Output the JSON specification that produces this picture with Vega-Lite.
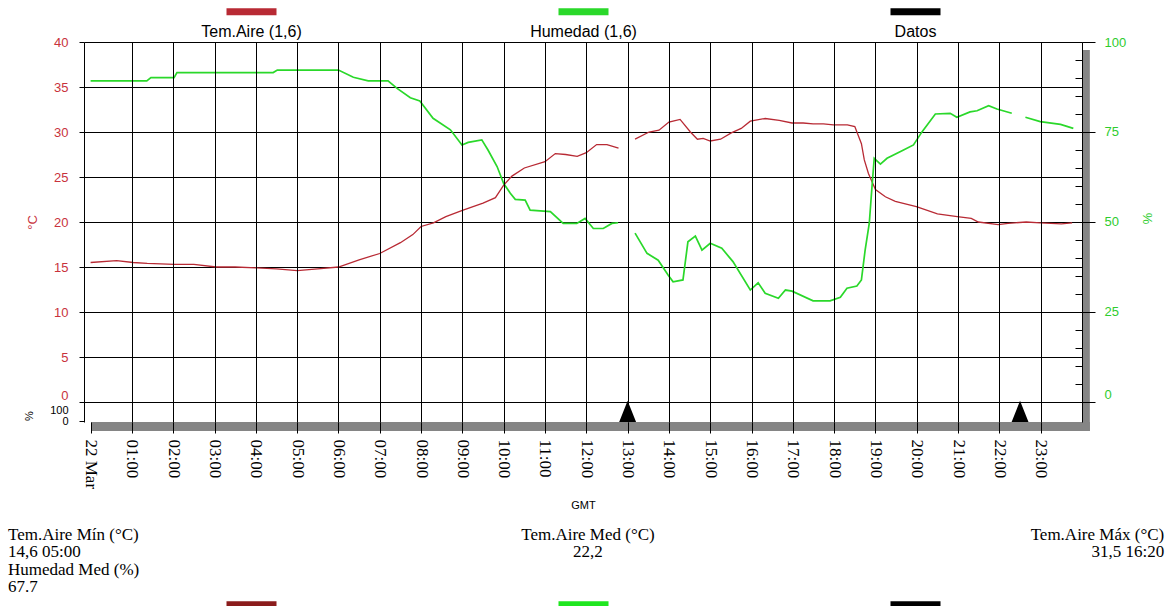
{
  "$schema": "https://vega.github.io/schema/vega-lite/v6.json",
  "width": 998,
  "height": 380,
  "autosize": {"type": "none"},
  "padding": {"left": 84, "top": 42, "right": 91, "bottom": 184},
  "background": "white",
  "config": {"view": {"stroke": null}, "font": "Liberation Sans"},
  "datasets": {
    "temp": [
      {"h":0.0,"v":15.5},{"h":0.63,"v":15.7},{"h":1.03,"v":15.5},{"h":1.37,"v":15.4},{"h":2.02,"v":15.3},{"h":2.5,"v":15.3},{"h":3.04,"v":15.0},{"h":3.5,"v":15.0},{"h":4.03,"v":14.9},{"h":4.5,"v":14.8},{"h":5.0,"v":14.6},{"h":5.5,"v":14.8},{"h":6.0,"v":15.0},{"h":6.5,"v":15.8},{"h":7.0,"v":16.5},{"h":7.5,"v":17.7},{"h":7.8,"v":18.6},{"h":8.0,"v":19.5},{"h":8.3,"v":19.9},{"h":8.6,"v":20.6},{"h":9.0,"v":21.3},{"h":9.5,"v":22.1},{"h":9.8,"v":22.7},{"h":10.0,"v":24.1},{"h":10.2,"v":25.1},{"h":10.5,"v":26.0},{"h":11.0,"v":26.7},{"h":11.25,"v":27.6},{"h":11.5,"v":27.5},{"h":11.78,"v":27.3},{"h":12.0,"v":27.7},{"h":12.25,"v":28.6},{"h":12.5,"v":28.6},{"h":12.78,"v":28.2},{"h":13.0,"v":null},{"h":13.18,"v":29.2},{"h":13.52,"v":30.0},{"h":13.76,"v":30.2},{"h":14.0,"v":31.1},{"h":14.27,"v":31.4},{"h":14.52,"v":30.0},{"h":14.69,"v":29.2},{"h":14.83,"v":29.3},{"h":15.0,"v":29.0},{"h":15.25,"v":29.2},{"h":15.51,"v":29.9},{"h":15.75,"v":30.4},{"h":15.97,"v":31.2},{"h":16.33,"v":31.5},{"h":16.67,"v":31.3},{"h":16.98,"v":31.0},{"h":17.25,"v":31.0},{"h":17.49,"v":30.9},{"h":17.74,"v":30.9},{"h":17.98,"v":30.8},{"h":18.32,"v":30.8},{"h":18.5,"v":30.6},{"h":18.66,"v":28.7},{"h":18.73,"v":26.9},{"h":18.83,"v":25.4},{"h":19.0,"v":23.6},{"h":19.24,"v":22.8},{"h":19.48,"v":22.3},{"h":19.99,"v":21.7},{"h":20.5,"v":20.9},{"h":20.98,"v":20.6},{"h":21.32,"v":20.4},{"h":21.49,"v":20.0},{"h":21.97,"v":19.7},{"h":22.21,"v":19.85},{"h":22.65,"v":20.0},{"h":22.99,"v":19.9},{"h":23.5,"v":19.8},{"h":23.76,"v":19.9}
    ],
    "hum": [
      {"h":0.0,"v":89.2},{"h":1.36,"v":89.2},{"h":1.46,"v":90.1},{"h":2.02,"v":90.1},{"h":2.09,"v":91.5},{"h":4.42,"v":91.5},{"h":4.52,"v":92.2},{"h":6.0,"v":92.2},{"h":6.36,"v":90.2},{"h":6.72,"v":89.2},{"h":7.2,"v":89.2},{"h":7.42,"v":87.1},{"h":7.74,"v":84.5},{"h":7.97,"v":83.6},{"h":8.29,"v":78.8},{"h":8.71,"v":75.6},{"h":8.99,"v":71.4},{"h":9.14,"v":72.1},{"h":9.47,"v":72.8},{"h":9.62,"v":70.0},{"h":9.84,"v":65.4},{"h":10.0,"v":60.7},{"h":10.16,"v":58.0},{"h":10.28,"v":56.3},{"h":10.52,"v":56.1},{"h":10.64,"v":53.3},{"h":11.13,"v":52.9},{"h":11.44,"v":49.6},{"h":11.77,"v":49.6},{"h":11.97,"v":51.0},{"h":12.17,"v":48.2},{"h":12.41,"v":48.2},{"h":12.62,"v":49.6},{"h":12.77,"v":49.8},{"h":13.0,"v":null},{"h":13.18,"v":46.9},{"h":13.47,"v":41.3},{"h":13.74,"v":39.4},{"h":13.98,"v":35.3},{"h":14.1,"v":33.4},{"h":14.34,"v":33.9},{"h":14.46,"v":44.5},{"h":14.64,"v":46.1},{"h":14.8,"v":42.2},{"h":15.0,"v":44.1},{"h":15.28,"v":42.7},{"h":15.55,"v":39.0},{"h":15.97,"v":31.1},{"h":16.16,"v":33.1},{"h":16.33,"v":30.2},{"h":16.65,"v":28.8},{"h":16.82,"v":31.1},{"h":16.98,"v":30.8},{"h":17.49,"v":28.1},{"h":17.9,"v":28.1},{"h":18.15,"v":29.1},{"h":18.31,"v":31.6},{"h":18.55,"v":32.2},{"h":18.66,"v":33.9},{"h":18.75,"v":42.2},{"h":18.85,"v":49.6},{"h":18.91,"v":58.9},{"h":18.97,"v":67.7},{"h":19.12,"v":66.1},{"h":19.28,"v":67.7},{"h":19.68,"v":70.0},{"h":19.92,"v":71.4},{"h":20.13,"v":75.1},{"h":20.45,"v":80.0},{"h":20.81,"v":80.2},{"h":20.97,"v":79.1},{"h":21.29,"v":80.6},{"h":21.46,"v":80.9},{"h":21.74,"v":82.3},{"h":21.94,"v":81.4},{"h":22.3,"v":80.2},{"h":22.45,"v":null},{"h":22.63,"v":79.1},{"h":22.99,"v":77.9},{"h":23.48,"v":77.1},{"h":23.79,"v":76.0}
    ],
    "datos": [{"h":13.0,"v":0},{"h":22.5,"v":0}]
  },
  "layer": [
    {
      "layer": [
        {
          "data": {"values": [{}]},
          "mark": {"type": "rect", "color": "#858585"},
          "encoding": {
            "x": {"datum": 24.0, "type": "quantitative", "title": "GMT", "scale": {"domain": [-0.16, 24], "nice": false, "zero": false}},
            "x2": {"datum": 24.19},
            "y": {"datum": 39.11, "type": "quantitative", "title": "°C", "scale": {"domain": [-2.2222, 40], "nice": false, "zero": false}},
            "y2": {"datum": -3.22}
          }
        },
        {
          "data": {"values": [{}]},
          "mark": {"type": "rect", "color": "#858585"},
          "encoding": {
            "x": {"datum": 0.01, "type": "quantitative", "title": "GMT", "scale": {"domain": [-0.16, 24], "nice": false, "zero": false}},
            "x2": {"datum": 24.19},
            "y": {"datum": -2.22, "type": "quantitative", "title": "°C", "scale": {"domain": [-2.2222, 40], "nice": false, "zero": false}},
            "y2": {"datum": -3.22}
          }
        },
        {
          "data": {"name": "temp"},
          "mark": {"type": "line", "strokeWidth": 1.3},
          "encoding": {
            "x": {
              "field": "h", "type": "quantitative", "title": "GMT",
              "scale": {"domain": [-0.16, 24], "nice": false, "zero": false},
              "axis": {
                "values": [0,1,2,3,4,5,6,7,8,9,10,11,12,13,14,15,16,17,18,19,20,21,22,23],
                "labelExpr": "datum.value == 0 ? '22 Mar' : (datum.value < 10 ? '0' : '') + datum.value + ':00'",
                "labelAngle": 90, "labelAlign": "left", "labelBaseline": "middle",
                "labelFont": "Liberation Serif", "labelFontSize": 17, "labelColor": "black",
                "labelPadding": 6, "labelOverlap": false, "labelFlush": false,
                "tickColor": "black", "tickSize": 11, "tickWidth": 1,
                "domain": false,
                "grid": true, "gridColor": "black", "gridWidth": 1,
                "gridOpacity": {"condition": {"test": "datum.value == 0", "value": 0}, "value": 1},
                "titleFont": "Liberation Sans", "titleFontSize": 11, "titleFontWeight": "normal",
                "titleColor": "black", "titlePadding": 11, "zindex": 1
              }
            },
            "y": {
              "field": "v", "type": "quantitative", "title": "°C",
              "scale": {"domain": [-2.2222, 40], "nice": false, "zero": false},
              "axis": {
                "values": [0,5,10,15,20,25,30,35,40],
                "grid": true, "gridColor": "black", "gridWidth": 1,
                "domain": true, "domainColor": "black",
                "tickColor": "black", "tickSize": 5,
                "labelColor": "#c8323c", "labelFont": "Liberation Sans", "labelFontSize": 13, "labelPadding": 11,
                "labelBaseline": {"condition": {"test": "datum.value == 0", "value": "bottom"}, "value": "middle"},
                "titleColor": "#c8323c", "titleFont": "Liberation Sans", "titleFontSize": 13, "titleFontWeight": "normal",
                "titlePadding": 14, "titleY": 180
              }
            },
            "color": {
              "datum": "Tem.Aire (1,6)", "type": "nominal",
              "scale": {"domain": ["Tem.Aire (1,6)", "Humedad (1,6)", "Datos"], "range": ["#b82a34", "#2ad82a", "#000000"]},
              "legend": {
                "orient": "none", "legendX": 139, "legendY": -39,
                "direction": "horizontal", "columns": 3, "columnPadding": 225, "gridAlign": "all",
                "title": null, "padding": 0, "rowPadding": 0,
                "symbolType": "M-1,-0.8H1", "symbolSize": 2500, "symbolStrokeWidth": 7, "symbolOffset": 0,
                "labelOffset": -28.5, "labelAlign": "center", "labelBaseline": "middle",
                "labelFont": "Liberation Sans", "labelFontSize": 16, "labelColor": "black"
              }
            }
          }
        },
        {
          "data": {"values": [{"texto": ["Tem.Aire Mín (°C)", "14,6 05:00", "Humedad Med (%)", "67.7"]}]},
          "mark": {"type": "text", "align": "left", "baseline": "alphabetic", "font": "Liberation Serif", "fontSize": 17, "lineHeight": 17.5, "color": "black"},
          "encoding": {
            "x": {"datum": -2.0, "type": "quantitative", "title": "GMT", "scale": {"domain": [-0.16, 24], "nice": false, "zero": false}},
            "y": {"datum": -15.28, "type": "quantitative", "title": "°C", "scale": {"domain": [-2.2222, 40], "nice": false, "zero": false}},
            "text": {"field": "texto"}
          }
        },
        {
          "data": {"values": [{"texto": ["Tem.Aire Med (°C)", "22,2"]}]},
          "mark": {"type": "text", "align": "center", "baseline": "alphabetic", "font": "Liberation Serif", "fontSize": 17, "lineHeight": 17.5, "color": "black"},
          "encoding": {
            "x": {"datum": 12.04, "type": "quantitative", "title": "GMT", "scale": {"domain": [-0.16, 24], "nice": false, "zero": false}},
            "y": {"datum": -15.28, "type": "quantitative", "title": "°C", "scale": {"domain": [-2.2222, 40], "nice": false, "zero": false}},
            "text": {"field": "texto"}
          }
        },
        {
          "data": {"values": [{"texto": ["Tem.Aire Máx (°C)", "31,5 16:20"]}]},
          "mark": {"type": "text", "align": "right", "baseline": "alphabetic", "font": "Liberation Serif", "fontSize": 17, "lineHeight": 17.5, "color": "black"},
          "encoding": {
            "x": {"datum": 25.99, "type": "quantitative", "title": "GMT", "scale": {"domain": [-0.16, 24], "nice": false, "zero": false}},
            "y": {"datum": -15.28, "type": "quantitative", "title": "°C", "scale": {"domain": [-2.2222, 40], "nice": false, "zero": false}},
            "text": {"field": "texto"}
          }
        }
      ]
    },
    {
      "data": {"name": "hum"},
      "mark": {"type": "line", "strokeWidth": 1.7},
      "encoding": {
        "x": {"field": "h", "type": "quantitative", "title": "GMT", "scale": {"domain": [-0.16, 24], "nice": false, "zero": false}},
        "y": {
          "field": "v", "type": "quantitative", "title": "%",
          "scale": {"domain": [-5.5556, 100], "nice": false, "zero": false},
          "axis": {
            "orient": "right", "offset": 0,
            "values": [0,5,10,15,20,25,30,35,40,45,50,55,60,65,70,75,80,85,90,95,100],
            "labelExpr": "datum.value % 25 == 0 ? datum.label : ''",
            "grid": false, "domain": true, "domainColor": "black",
            "tickColor": "black", "tickSize": -7,
            "labelColor": "#2ecc2e", "labelFont": "Liberation Sans", "labelFontSize": 13, "labelPadding": 29,
            "labelBaseline": {"condition": {"test": "datum.value == 0", "value": "bottom"}, "value": "middle"},
            "labelOverlap": false,
            "titleColor": "#2ecc2e", "titleFont": "Liberation Sans", "titleFontSize": 13, "titleFontWeight": "normal",
            "titlePadding": 14, "titleY": 176, "zindex": 1
          }
        },
        "color": {"datum": "Humedad (1,6)", "type": "nominal"}
      }
    },
    {
      "data": {"name": "hum"},
      "mark": {"type": "line", "opacity": 0},
      "encoding": {
        "x": {"field": "h", "type": "quantitative", "title": "GMT", "scale": {"domain": [-0.16, 24], "nice": false, "zero": false}},
        "y": {
          "field": "v", "type": "quantitative", "title": null,
          "scale": {"domain": [-5.5556, 100], "nice": false, "zero": false},
          "axis": {
            "orient": "right", "offset": 0, "values": [0,25,50,75,100],
            "grid": false, "domain": false, "labels": false,
            "tickColor": "black", "tickSize": 13, "zindex": 1
          }
        }
      }
    },
    {
      "data": {"name": "datos"},
      "mark": {"type": "point", "shape": "M-0.8,0L0,-2L0.8,0Z", "filled": true, "size": 306, "opacity": 1},
      "encoding": {
        "x": {"field": "h", "type": "quantitative", "title": "GMT", "scale": {"domain": [-0.16, 24], "nice": false, "zero": false}},
        "y": {
          "field": "v", "type": "quantitative", "title": "%",
          "scale": {"domain": [0, 100], "range": [379, 368], "nice": false, "zero": false},
          "axis": {
            "orient": "left", "offset": 0, "values": [0, 100],
            "grid": false, "domain": false,
            "tickColor": "black", "tickSize": 5,
            "tickOpacity": {"condition": {"test": "datum.value == 100", "value": 0}, "value": 1},
            "labelColor": "black", "labelFont": "Liberation Sans", "labelFontSize": 11, "labelPadding": 11,
            "titleColor": "black", "titleFont": "Liberation Sans", "titleFontSize": 11, "titleFontWeight": "normal",
            "titlePadding": 15
          }
        },
        "color": {"datum": "Datos", "type": "nominal"},
        "stroke": {
          "datum": "datos", "type": "nominal",
          "scale": {"domain": ["tem", "hum", "datos"], "range": ["#8b1c1c", "#1fe61f", "#000000"]},
          "legend": {
            "orient": "none", "legendX": 139, "legendY": 554,
            "direction": "horizontal", "columns": 3, "columnPadding": 253, "gridAlign": "all",
            "title": null, "padding": 0, "rowPadding": 0,
            "symbolType": "M-1,-0.8H1", "symbolSize": 2500, "symbolStrokeWidth": 7, "symbolOffset": 0,
            "labelExpr": "''", "labelOffset": 0
          }
        }
      }
    }
  ],
  "resolve": {"scale": {"y": "independent"}}
}
